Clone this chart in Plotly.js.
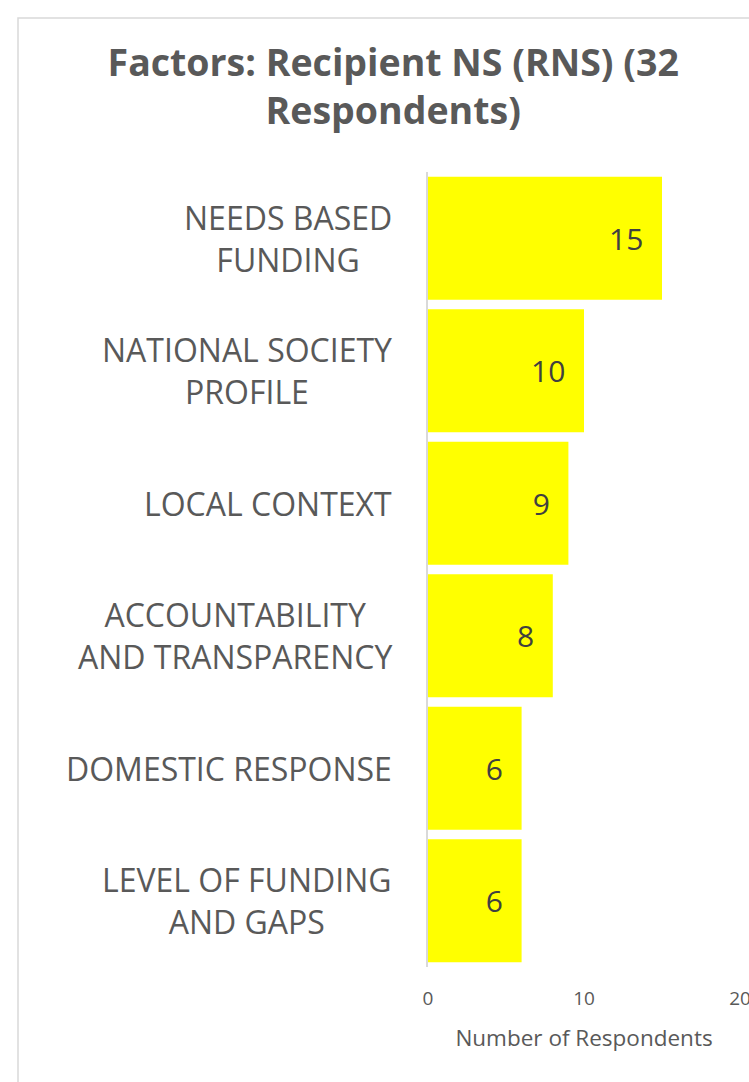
<!DOCTYPE html>
<html>
<head>
<meta charset="utf-8">
<script src="https://cdn.plot.ly/plotly-3.0.1.min.js"></script>
<style>
html, body { margin: 0; padding: 0; background: #ffffff; }
#chart { width: 749px; height: 1082px; }
</style>
</head>
<body>
<div id="chart"></div>
<script>
var categories = [
  "NEEDS BASED<br>FUNDING",
  "NATIONAL SOCIETY<br>PROFILE",
  "LOCAL CONTEXT",
  "ACCOUNTABILITY<br>AND TRANSPARENCY",
  "DOMESTIC RESPONSE",
  "LEVEL OF FUNDING<br>AND GAPS"
];
var respondents = [15, 10, 9, 8, 6, 6];
var xTickValues = [0, 10, 20];
var chartTitle = "Factors: Recipient NS (RNS) (32<br>Respondents)";
var xAxisTitle = "Number of Respondents";

var trace = {
  type: "bar",
  orientation: "h",
  y: categories,
  x: respondents,
  marker: { color: "#FFFF00", line: { width: 0 } },
  texttemplate: "%{x}\u00a0\u00a0",
  textposition: "inside",
  insidetextanchor: "end",
  constraintext: "none",
  textfont: { family: "Open Sans, sans-serif", size: 30, color: "#404040" },
  hoverinfo: "skip"
};

var categoryLabels = categories.map(function (c) {
  return {
    xref: "paper", x: 0, xanchor: "right", xshift: -34,
    yref: "y", y: c, yanchor: "middle",
    text: c, showarrow: false, align: "center",
    font: { family: "Open Sans, sans-serif", size: 32, color: "#595959" }
  };
});

var layout = {
  width: 749,
  height: 1082,
  paper_bgcolor: "#ffffff",
  plot_bgcolor: "#ffffff",
  showlegend: false,
  margin: { l: 428, r: 9, t: 172, b: 115, pad: 0 },
  bargap: 0.07,
  title: {
    text: chartTitle,
    font: { family: "Open Sans, sans-serif", size: 37.5, color: "#595959", weight: "bold" },
    xref: "container",
    x: 0.525,
    xanchor: "center",
    yref: "container",
    y: 0.93,
    yanchor: "top"
  },
  xaxis: {
    range: [0, 20],
    tickvals: xTickValues,
    ticktext: xTickValues.map(String),
    ticklabeloverflow: "allow",
    showgrid: false,
    zeroline: false,
    showline: false,
    ticks: "outside",
    ticklen: 14,
    tickcolor: "rgba(0,0,0,0)",
    tickfont: { family: "Open Sans, sans-serif", size: 19, color: "#595959" },
    title: {
      text: xAxisTitle,
      font: { family: "Open Sans, sans-serif", size: 22.5, color: "#595959" },
      standoff: 20
    },
    fixedrange: true
  },
  yaxis: {
    autorange: "reversed",
    showgrid: false,
    zeroline: false,
    showline: true,
    linecolor: "#d9d9d9",
    linewidth: 2,
    showticklabels: false,
    ticks: "",
    fixedrange: true
  },
  annotations: categoryLabels,
  shapes: [{
    type: "rect",
    xref: "paper", yref: "paper",
    x0: (18 - 428) / 312, x1: 2.5,
    y0: -0.3, y1: (967 - 18) / 795,
    line: { color: "#d9d9d9", width: 1.5 },
    fillcolor: "rgba(0,0,0,0)",
    layer: "below"
  }]
};

Plotly.newPlot("chart", [trace], layout, { displayModeBar: false, staticPlot: true });
</script>
</body>
</html>
